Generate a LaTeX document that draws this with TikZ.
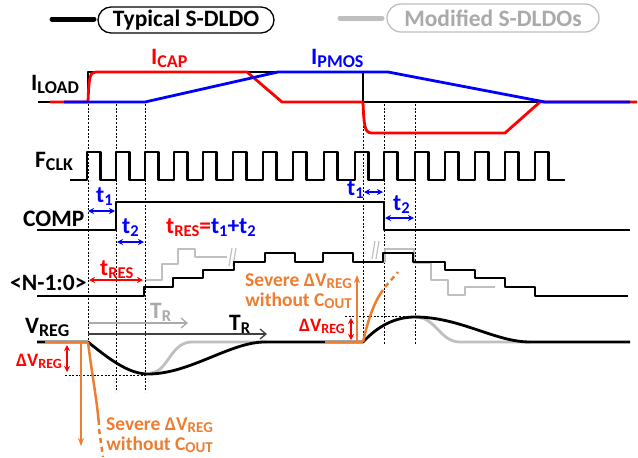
\documentclass[tikz,border=0pt]{standalone}
\usepackage{fontspec}
\setmainfont{Carlito}
\usetikzlibrary{arrows.meta}
\definecolor{myred}{RGB}{255,0,0}
\definecolor{myblue}{RGB}{0,0,255}
\definecolor{myorange}{RGB}{237,125,49}
\definecolor{lgray}{RGB}{191,191,191}
\definecolor{tgray}{RGB}{170,170,170}
\definecolor{dgray}{RGB}{64,64,64}
\newcommand\mysub[2][18]{\raisebox{-0.13em}{\fontsize{#1}{#1}\selectfont #2}}
\tikzset{
  lab/.style={inner sep=0pt, font=\fontsize{23.5}{26}\selectfont\bfseries},
  midlab/.style={inner sep=0pt, font=\fontsize{19.5}{22}\selectfont\bfseries},
  smlab/.style={inner sep=0pt, font=\fontsize{19}{21}\selectfont\bfseries},
  sig/.style={line width=2.8pt, line join=round},
  clk/.style={line width=2.5pt, line join=round},
  dotv/.style={line width=0.9pt, dash pattern=on 2pt off 1.6pt},
  tarr/.style={line width=1.4pt, {Stealth[length=6pt,width=6pt]}-{Stealth[length=6pt,width=6pt]}},
  marks/.style={lgray, line width=1.2pt},
}
\begin{document}
\begin{tikzpicture}[x=1pt,y=-1pt]
\fill[white] (0,0) rectangle (638,458);
\useasboundingbox (0,0) rectangle (638,458);

% legend
\draw[line width=5pt, line cap=round] (52,19) -- (94,19);
\node[draw, lab, line width=1.3pt, rounded corners=13pt, minimum width=176pt, minimum height=26pt] (leg1) at (186,20) {Typical S-DLDO};
\draw[line width=5pt, line cap=round, lgray] (340,18) -- (382,18);
\node[draw=lgray, lab, text=tgray, line width=1.3pt, rounded corners=14pt, minimum width=212pt, minimum height=28pt] (leg2) at (493,18) {Modified S-DLDOs};

% labels
\node[lab, anchor=base west] (iload) at (31,90) {I\mysub{LOAD}};
\node[lab, anchor=base west, text=myred] (icap) at (151,64) {I\mysub{CAP}};
\node[lab, anchor=base west, text=myblue] (ipmos) at (311,64) {I\mysub{PMOS}};
\node[lab, anchor=base west] (fclk) at (35,167) {F\mysub{CLK}};
\node[lab, anchor=base west] (comp) at (23,226) {COMP};
\node[lab, anchor=base west] (nbus) at (10,290) {<N-1:0>};
\node[lab, anchor=base west] (vreg) at (25,333) {V\mysub{REG}};

% dotted guides
\draw[dotv] (88,104) -- (88,342);
\draw[dotv] (116,104) -- (116,392);
\draw[dotv] (145,104) -- (145,392);
\draw[dotv] (363,104) -- (363,342);
\draw[dotv] (384,104) -- (384,344);
\draw[dotv] (415,104) -- (415,344);
\draw[dotv] (65,375) -- (147,375);
\draw[dotv] (345,316) -- (415,316);

% ILOAD
\draw[sig] (38,102) -- (88,102) -- (88,72) -- (363,72) -- (363,102) -- (630,102);
\draw[sig, myred] (50,102) -- (88,102) .. controls (89,76) and (90,72) .. (96,72) -- (247,72) -- (282,102) -- (363,102)
   .. controls (364,128) and (365,133) .. (372,133) -- (505,133) -- (540,102) -- (637,102);
\draw[sig, myblue] (64,102) -- (145,102) -- (278,72) -- (388,72) -- (545,102) -- (630,102);

% FCLK
\draw[clk] (70,180) foreach \r in {87,116,145,174,203,233,263,293,324,355,384,415,445,475,505,535} { -- (\r,180) -- (\r,152) -- ({\r+13.5},152) -- ({\r+13.5},180) } -- (565,180);

% COMP
\draw[sig] (37,230) -- (116,230) -- (116,202) -- (384,202) -- (384,230) -- (630,230);
\draw[tarr, myblue] (88,211) -- (115,211);
\draw[tarr, myblue] (117,242) -- (144,242);
\draw[tarr, myblue] (364,192) -- (383,192);
\draw[tarr, myblue] (385,218) -- (414,218);
\node[lab, anchor=base west, text=myblue] (t1a) at (96,202) {t\mysub[16.5]{1}};
\node[lab, anchor=base west, text=myblue] (t2a) at (122,233) {t\mysub[16.5]{2}};
\node[lab, anchor=base west, text=myblue] (t1b) at (347,195) {t\mysub[16.5]{1}};
\node[lab, anchor=base west, text=myblue] (t2b) at (393,210) {t\mysub[16.5]{2}};
\node[lab, anchor=base west] (tres) at (166,233) {\textcolor{myred}{t\mysub[16.5]{RES}=}\textcolor{myblue}{t\mysub[16.5]{1}+t\mysub[16.5]{2}}};

% N-1:0
\draw[sig, lgray] (146,280) -- (162,280) -- (162,264) -- (178,264) -- (178,249) -- (195,249) -- (195,257) -- (227,257);
\draw[marks] (229,266) -- (232,248) (233,266) -- (236,248);
\draw[sig, lgray] (380,262) -- (385,262) -- (385,249) -- (414,249) -- (414,263) -- (431,263) -- (431,280) -- (448,280) -- (448,295) -- (465,295) -- (465,287) -- (495,287);
\draw[marks] (372,259) -- (375,241) (376,259) -- (379,241);
\draw[sig] (37,296) -- (144,296) -- (144,287) -- (173,287) -- (173,278) -- (203,278) -- (203,270) -- (234,270) -- (234,262) -- (265,262) -- (265,253) -- (295,253) -- (295,262) -- (323,262) -- (323,253) -- (353,253) -- (353,262) -- (383,262) -- (383,253) -- (413,253) -- (413,262) -- (445,262) -- (445,270) -- (475,270) -- (475,278) -- (505,278) -- (505,287) -- (535,287) -- (535,296) -- (628,296);
\draw[tarr, myred] (89,280) -- (143,280);
\node[lab, anchor=base west, text=myred] (tresb) at (100,275) {t\mysub[16.5]{RES}};

% VREG
\draw[sig, lgray] (150,373) .. controls (168,373) and (170,342) .. (192,342) -- (266,342);
\draw[sig, lgray] (415,317) .. controls (436,317) and (440,342) .. (460,342) -- (530,342);
\draw[sig] (37,342) -- (88,342) .. controls (108,358) and (128,374) .. (148,374)
   .. controls (190,374) and (230,342) .. (265,342) -- (363,342)
   .. controls (378,326) and (395,317) .. (415,317)
   .. controls (460,317) and (495,342) .. (530,342) -- (630,342);
\draw[sig, myorange] (45,342) -- (88,342);
\draw[sig, myorange] (325,342) -- (363,342);

% T_R arrows
\draw[line width=1.3pt, tgray, -{Straight Barb[length=6pt,width=10pt]}] (88,323) -- (188,323);
\draw[line width=1.3pt, dgray, -{Straight Barb[length=6pt,width=10pt]}] (88,334) -- (267,334);
\node[lab, anchor=base west, text=tgray] (trg) at (150,318) {T\mysub[16.5]{R}};
\node[lab, anchor=base west] (trb) at (229,330) {T\mysub[16.5]{R}};

% delta VREG
\draw[tarr, myred] (67,345) -- (67,372);
\draw[tarr, myred] (351,318) -- (351,340);
\node[smlab, anchor=base west, text=myred] (dvl) at (16,366) {ΔV\mysub[14]{REG}};
\node[smlab, anchor=base west, text=myred] (dvr) at (299,331) {ΔV\mysub[14]{REG}};

% severe without COUT
\draw[line width=1.5pt, myorange, -{Stealth[length=8pt,width=6pt]}] (81,342) -- (81,446);
\draw[line width=2.5pt, myorange] (88,342) .. controls (92,375) and (97,400) .. (99,425);
\draw[line width=2.5pt, myorange, dash pattern=on 5pt off 4pt] (99,429) -- (103,457);
\node[midlab, anchor=base east, text=myorange] (sev1) at (213,430) {Severe ΔV\mysub[15]{REG}};
\node[midlab, anchor=base east, text=myorange] (wo1) at (213,450) {without C\mysub[15]{OUT}};
\draw[line width=1.5pt, myorange, -{Stealth[length=8pt,width=6pt]}] (357,342) -- (357,275);
\draw[line width=2.5pt, myorange] (363,342) .. controls (368,320) and (374,302) .. (383,290);
\draw[line width=2.5pt, myorange, dash pattern=on 5pt off 4pt] (385,287) -- (398,272);
\node[midlab, anchor=base east, text=myorange] (sev2) at (352,286) {Severe ΔV\mysub[15]{REG}};
\node[midlab, anchor=base east, text=myorange] (wo2) at (352,306) {without C\mysub[15]{OUT}};
\end{tikzpicture}
\end{document}
